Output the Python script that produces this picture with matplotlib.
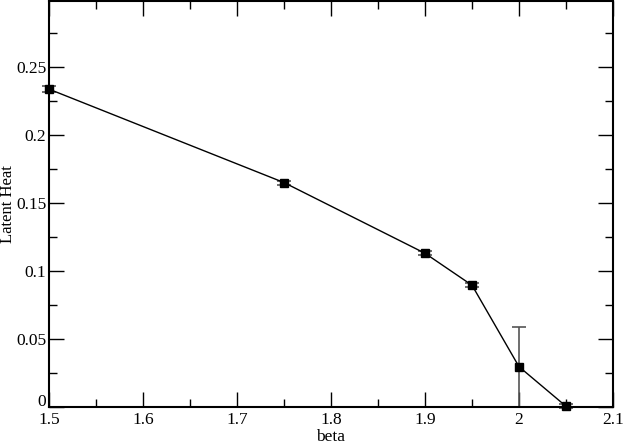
import numpy as np
import matplotlib.pyplot as plt
import matplotlib.transforms as mtransforms
from matplotlib.ticker import MultipleLocator

plt.rcParams['font.family'] = ['Liberation Serif', 'DejaVu Serif']

beta = [1.5, 1.75, 1.9, 1.95, 2.0, 2.05]
heat = [0.2337, 0.165, 0.113, 0.0895, 0.0296, 0.0005]
err = [0.002, 0.0015, 0.0015, 0.0015, 0.0295, 0.0015]

fig = plt.figure(figsize=(6.23, 4.43), dpi=100)
ax = fig.add_axes([0.0787, 0.0813, 0.9053, 0.9164])

ax.errorbar(beta, heat, yerr=err, color='black', lw=1, marker='s', ms=6,
            ecolor='#555555', elinewidth=1.2, capsize=5, capthick=1.2, clip_on=False)

ax.set_xlim(1.5, 2.1)
ax.set_ylim(0, 0.2985)
ax.xaxis.set_minor_locator(MultipleLocator(0.05))
ax.yaxis.set_minor_locator(MultipleLocator(0.025))
ax.set_xticks([1.5, 1.6, 1.7, 1.8, 1.9, 2.0, 2.1])
ax.set_xticklabels(['1.5', '1.6', '1.7', '1.8', '1.9', '2', '2.1'])
ax.set_yticks([0, 0.05, 0.1, 0.15, 0.2, 0.25])
ax.set_yticklabels(['0', '0.05', '0.1', '0.15', '0.2', '0.25'])
ax.tick_params(which='both', direction='in', top=True, right=True, labelsize=12.5)
ax.tick_params(which='major', length=11, width=1)
ax.tick_params(which='minor', length=6, width=1)
ax.tick_params(axis='x', pad=3.5)
ax.tick_params(axis='y', pad=2)
for s in ax.spines.values():
    s.set_linewidth(1.5)

# lift the "0" a little so it sits above "1.5" like in the original
lbl0 = ax.get_yticklabels()[0]
lbl0.set_transform(lbl0.get_transform() + mtransforms.ScaledTranslation(0, 5/72, fig.dpi_scale_trans))

ax.set_xlabel('beta', fontsize=12.5, labelpad=0.5)
ax.set_ylabel('Latent Heat', fontsize=12)
ax.yaxis.set_label_coords(-0.059, 0.5)

fig.savefig('out.png', dpi=100)
